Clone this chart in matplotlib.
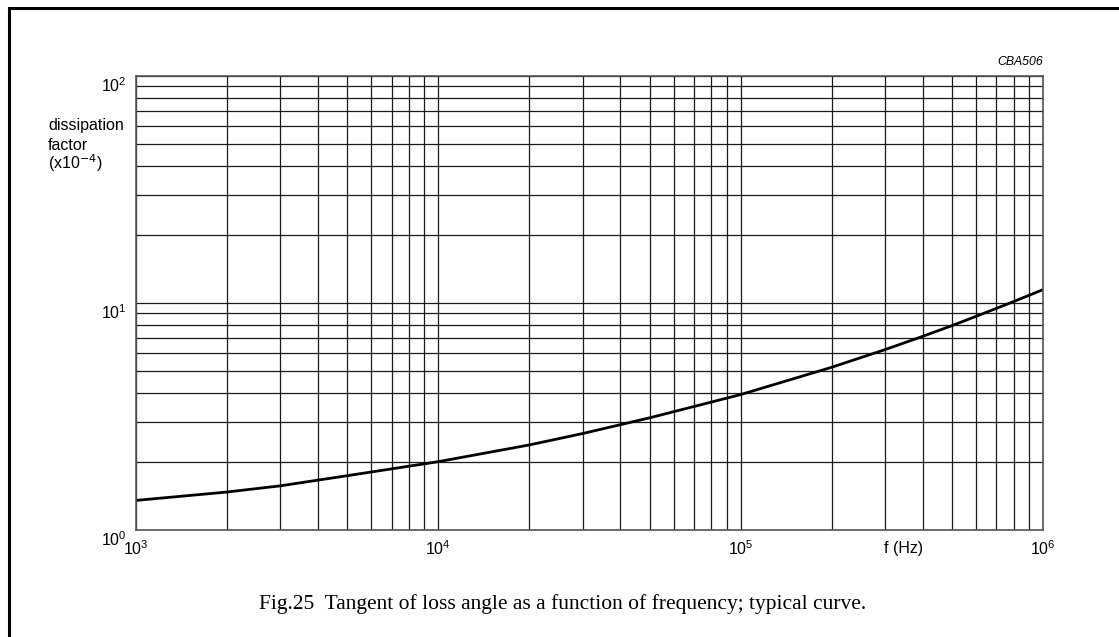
"""Tangent of loss angle vs frequency, typical curve (Fig.25)."""
import numpy as np
import matplotlib
matplotlib.use('Agg')
import matplotlib.pyplot as plt
from matplotlib.lines import Line2D

plt.rcParams['font.family'] = ['Liberation Sans', 'DejaVu Sans']

# values
freq_hz = [1e3, 2e3, 3e3, 5e3, 1e4, 2e4, 3e4, 5e4, 1e5, 2e5, 3e5, 4e5, 5e5, 6e5, 7e5, 8e5, 1e6]
diss = [1.35, 1.47, 1.565, 1.735, 2.0, 2.37, 2.66, 3.12, 3.95, 5.21, 6.23, 7.13, 7.95, 8.73, 9.46, 10.15, 11.45]
x_lim = (1e3, 1e6)
y_lim = (1, 100)
y_label_lines = ['dissipation', 'factor', '(x10$^{-4}$)']
x_label = 'f (Hz)'
code = 'CBA506'
caption = 'Fig.25  Tangent of loss angle as a function of frequency; typical curve.'

fig = plt.figure(figsize=(11.19, 6.37), dpi=100)
ax = fig.add_axes([136/1119, 1-530/637, 907/1119, 454/637])
ax.set_xscale('log'); ax.set_yscale('log')
ax.set_xlim(*x_lim); ax.set_ylim(*y_lim)
ax.grid(True, which='both', color='#1a1a1a', lw=0.9)
ax.set_axisbelow(True)
ax.tick_params(which='both', length=0, labelsize=11.5, colors='black')
ax.tick_params(axis='x', pad=7)
ax.tick_params(axis='y', pad=6.5)
for s in ax.spines.values():
    s.set_color('#555555'); s.set_linewidth(1.2)
ax.plot(freq_hz, diss, color='black', lw=2.0, solid_capstyle='butt')

# y label as three stacked lines, left of the axis
for i, t in enumerate(y_label_lines):
    fig.text(48/1119, 1-(130+19.5*i)/637, t, fontsize=11.5, va='baseline', ha='left')
ax.text(0.846, -0.04, x_label, transform=ax.transAxes, fontsize=11.5, ha='center', va='center')
ax.text(1.0, 1.017, code, transform=ax.transAxes, fontsize=8.8, style='italic', ha='right', va='bottom')
fig.text(0.503, 1-604/637, caption, fontsize=15.5, ha='center', va='center',
         family=['Liberation Serif', 'DejaVu Serif'])

# page frame: left and top edges
fig.add_artist(Line2D([9/1119, 9/1119], [0, 1-8/637], color='black', lw=2.2, transform=fig.transFigure))
fig.add_artist(Line2D([9/1119, 1], [1-8/637, 1-8/637], color='black', lw=2.2, transform=fig.transFigure))

fig.canvas.draw()
plt.setp(ax.get_yticklabels(), va='top')

fig.savefig('out.png', dpi=100)
